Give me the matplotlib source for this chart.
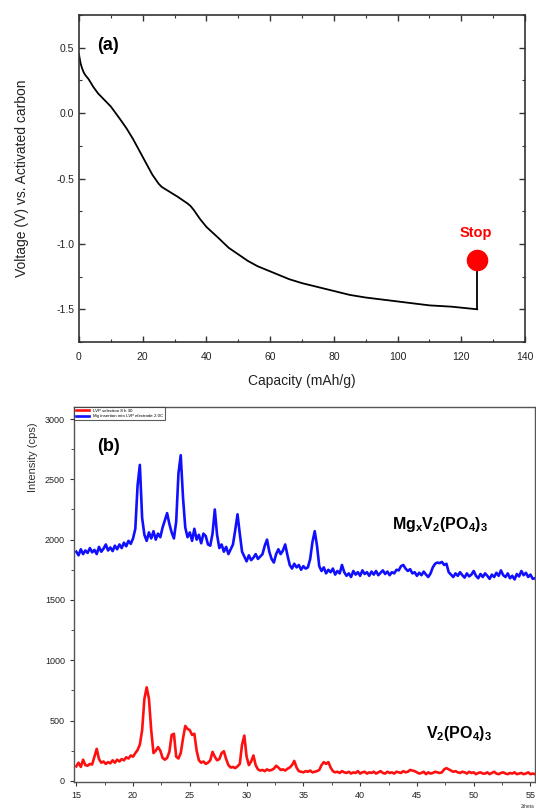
import numpy as np
import matplotlib
matplotlib.use("Agg")
import matplotlib.pyplot as plt
from matplotlib.ticker import MultipleLocator

plt.rcParams['font.family'] = ['Liberation Sans', 'DejaVu Sans']
plt.rcParams['mathtext.fontset'] = 'custom'
plt.rcParams['mathtext.bf'] = 'Liberation Sans:bold'
plt.rcParams['mathtext.rm'] = 'Liberation Sans'

# ---------------- Panel (a) data ----------------
capacity = [0, 0.2, 0.5, 1, 1.5, 2, 3, 4.5, 6, 8, 10, 11.5, 13, 15, 17, 19, 21,
            23, 25, 26, 27, 29, 31, 32.5, 34, 35, 36, 38, 40, 44, 47, 50, 53,
            56, 59, 62, 66, 70, 75, 80, 85, 90, 95, 100, 105, 110, 117, 125]
voltage = [0.45, 0.42, 0.38, 0.34, 0.31, 0.29, 0.26, 0.20, 0.15, 0.10, 0.05,
           0.0, -0.05, -0.12, -0.2, -0.29, -0.38, -0.47, -0.54, -0.565, -0.58,
           -0.61, -0.64, -0.665, -0.69, -0.71, -0.74, -0.81, -0.87, -0.96,
           -1.03, -1.08, -1.13, -1.17, -1.20, -1.23, -1.27, -1.30, -1.33,
           -1.36, -1.39, -1.41, -1.425, -1.44, -1.455, -1.47, -1.48, -1.50]
stop_capacity = 125
stop_voltage = -1.12

# ---------------- Panel (b) data ----------------
two_theta_start, two_theta_step = 15.0, 0.2

mg_vpo = [
    1900, 1870, 1920, 1880, 1910, 1890, 1930, 1895, 1915, 1880,
    1940, 1900, 1925, 1960, 1910, 1935, 1905, 1950, 1920, 1960,
    1930, 1975, 1945, 1990, 1965, 2010, 2090, 2450, 2620, 2180,
    2040, 1990, 2060, 2010, 2070, 2000, 2050, 2020, 2100, 2160,
    2220, 2130, 2060, 2010, 2150, 2550, 2700, 2350, 2100, 2020,
    2060, 1990, 2090, 2000, 2040, 1970, 2050, 2030, 1960, 1950,
    2050, 2250, 2040, 1930, 1960, 1900, 1940, 1880, 1920, 1960,
    2080, 2210, 2050, 1900, 1860, 1820, 1870, 1830, 1850, 1880,
    1840, 1860, 1880, 1950, 2000, 1900, 1840, 1810, 1880, 1920,
    1880, 1910, 1960, 1870, 1790, 1760, 1800, 1770, 1790, 1750,
    1780, 1760, 1770, 1840, 1980, 2070, 1950, 1780, 1740, 1770,
    1720, 1750, 1730, 1760, 1710, 1740, 1720, 1790, 1730, 1700,
    1720, 1690, 1740, 1710, 1730, 1700, 1745, 1715, 1730, 1700,
    1735, 1710, 1740, 1705, 1725, 1745, 1715, 1735, 1705, 1730,
    1720, 1750, 1745, 1780, 1790, 1760, 1740, 1755, 1720, 1730,
    1700, 1725, 1705, 1735, 1710, 1690, 1720, 1770, 1800, 1810,
    1805, 1815, 1790, 1800, 1730, 1710, 1690, 1720, 1700, 1730,
    1705, 1685, 1720, 1695, 1710, 1740, 1700, 1680, 1715, 1690,
    1720, 1700, 1675, 1710, 1690, 1725, 1700, 1745, 1705, 1690,
    1720, 1680, 1700, 1670, 1715, 1695, 1740, 1705, 1725, 1690,
    1710, 1675, 1680,
]

vpo = [
    120, 150, 115, 175, 130, 125, 140, 135, 200, 265,
    180, 150, 160, 140, 155, 145, 170, 150, 175, 160,
    180, 170, 195, 185, 210, 200, 230, 255, 300, 420,
    680, 775, 680, 420, 230, 250, 280, 250, 190, 175,
    190, 240, 380, 390, 200, 185, 230, 350, 455, 430,
    420, 380, 390, 250, 170, 150, 160, 140, 150, 170,
    240, 200, 170, 180, 230, 245, 180, 130, 110, 115,
    105, 120, 140, 300, 375, 200, 130, 160, 210, 130,
    95, 85, 90, 80, 95, 85, 90, 100, 125, 110,
    90, 95, 85, 100, 110, 130, 165, 110, 80, 75,
    70, 80, 75, 85, 70, 75, 80, 90, 130, 155,
    140, 155, 110, 80, 70, 75, 65, 80, 70, 65,
    75, 60, 70, 65, 80, 60, 70, 75, 60, 70,
    65, 75, 60, 70, 80, 65, 60, 75, 65, 70,
    60, 75, 70, 65, 80, 70, 75, 90, 85, 80,
    70, 60, 65, 75, 55, 70, 60, 65, 75, 70,
    65, 70, 95, 105, 95, 85, 75, 80, 70, 65,
    75, 70, 60, 75, 65, 70, 55, 65, 70, 60,
    60, 70, 55, 65, 75, 60, 55, 65, 70, 60,
    55, 65, 60, 70, 55, 60, 65, 55, 60, 70,
    55, 60, 55,
]
two_theta = np.round(np.arange(len(vpo)) * two_theta_step + two_theta_start, 2)

legend_labels = ["LVP selection 8 h 30", "Mg insertion into LVP electrode 2.0C"]

# ---------------- Figure ----------------
fig = plt.figure(figsize=(5.36, 8.10), dpi=100)
spine_col = '#333333'

# Panel (a)
ax1 = fig.add_axes([79/536, 1-342/810, (525-79)/536, (342-15)/810])
ax1.plot(capacity, voltage, color='black', lw=1.3)
ax1.plot([stop_capacity, stop_capacity], [voltage[-1], stop_voltage], color='black', lw=1.3)
ax1.plot([stop_capacity], [stop_voltage], 'o', color='red', ms=14.5, zorder=5)
ax1.text(stop_capacity - 0.5, stop_voltage + 0.2, "Stop", color='red', fontsize=10.5,
         fontweight='bold', ha='center', va='center')
ax1.text(5.6, 0.52, "(a)", fontsize=13, fontweight='bold', ha='left', va='center')
ax1.set_xlim(0, 140)
ax1.set_ylim(-1.75, 0.75)
ax1.xaxis.set_major_locator(MultipleLocator(20))
ax1.xaxis.set_minor_locator(MultipleLocator(10))
ax1.yaxis.set_major_locator(MultipleLocator(0.5))
ax1.yaxis.set_minor_locator(MultipleLocator(0.25))
ax1.yaxis.set_major_formatter(matplotlib.ticker.FormatStrFormatter('%.1f'))
ax1.tick_params(which='both', direction='in', top=True, right=True, labelsize=7.5,
                colors=spine_col, labelcolor='#222222')
ax1.tick_params(which='major', length=4, width=1)
ax1.tick_params(which='minor', length=2.5, width=0.8)
ax1.tick_params(axis='x', which='major', pad=7)
for s in ax1.spines.values():
    s.set_color(spine_col)
    s.set_linewidth(1.2)
ax1.set_xlabel("Capacity (mAh/g)", fontsize=10, color='#222222')
ax1.set_ylabel("Voltage (V) vs. Activated carbon", fontsize=10, color='#222222')
ax1.xaxis.set_label_coords(0.5, -(374 - 342) / 327, transform=ax1.transAxes)
ax1.yaxis.set_label_coords(-(79 - 29) / 446, 0.5, transform=ax1.transAxes)

# Panel (b)
ax2 = fig.add_axes([74/536, 1-782/810, (535-74)/536, (782-407)/810])
ax2.plot(two_theta, vpo, color='#ff1010', lw=1.9, label=legend_labels[0])
ax2.plot(two_theta, mg_vpo, color='#1010ff', lw=1.9, label=legend_labels[1])
ax2.set_xlim(14.8, 55.4)
ax2.set_ylim(-10, 3100)
ax2.xaxis.set_major_locator(MultipleLocator(5))
ax2.xaxis.set_minor_locator(MultipleLocator(2.5))
ax2.yaxis.set_major_locator(MultipleLocator(500))
ax2.yaxis.set_minor_locator(MultipleLocator(250))
ax2.tick_params(which='both', direction='out', labelsize=6.5, colors=spine_col,
                labelcolor='#222222')
ax2.tick_params(which='major', length=3, width=0.8)
ax2.tick_params(which='minor', length=2, width=0.6)
for s in ax2.spines.values():
    s.set_color('#555555')
    s.set_linewidth(1.0)
leg = ax2.legend(loc='upper left', fontsize=3.2, frameon=True, fancybox=False,
                 borderaxespad=0.0, handlelength=3, borderpad=0.4, labelspacing=0.3)
leg.get_frame().set_edgecolor('#333333')
leg.get_frame().set_linewidth(0.8)
ax2.text(16.8, 2770, "(b)", fontsize=13, fontweight='bold', ha='left', va='center')
ax2.text(42.8, 2125, r"$\mathbf{Mg_xV_2(PO_4)_3}$", fontsize=11.5, ha='left', va='center')
ax2.text(45.8, 390, r"$\mathbf{V_2(PO_4)_3}$", fontsize=11.5, ha='left', va='center')
fig.text(33/536, 1-457/810, "Intensity (cps)", rotation=90, fontsize=8,
         ha='center', va='center', color='#333333')
fig.text(528/536, 1-806/810, "2theta", fontsize=3.5, ha='center', va='center', color='#333333')

fig.savefig("out.png", dpi=100)
